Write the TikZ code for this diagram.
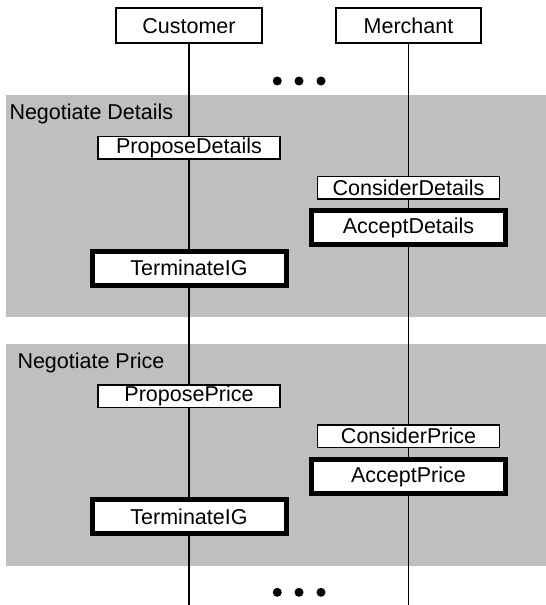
\documentclass[tikz,border=0pt]{standalone}
\usepackage{fontspec}
\setmainfont{Liberation Sans}
\pgfdeclarelayer{regions}
\pgfdeclarelayer{lanes}
\pgfsetlayers{regions,lanes,main}
\definecolor{phasegray}{RGB}{191,191,191}
\begin{document}
\begin{tikzpicture}[x=1pt,y=-1pt,
  every node/.style={font=\fontsize{21.5}{25}\selectfont},
  actor/.style={draw, line width=1.6pt, fill=white, minimum height=35pt, inner sep=0pt},
  stepbox/.style={draw, line width=1.5pt, fill=white, minimum width=182pt, minimum height=22.5pt, inner sep=0pt},
  finalbox/.style={draw, line width=5pt, fill=white, minimum width=194pt, minimum height=34pt, inner sep=0pt},
  phase/.style={fill=phasegray, draw=none, anchor=north west, minimum width=541pt, inner sep=0pt},
  phaselabel/.style={anchor=base west, inner sep=0pt},
  lifeline/.style={line width=1.3pt},
  ellipsisdot/.style={circle, fill=black, minimum size=9pt, inner sep=0pt}
]
\useasboundingbox (0,0) rectangle (546,605);

% participants
\node[actor, minimum width=146pt] (cust) at (189,25.7) {Customer};
\node[actor, minimum width=144.5pt] (merch) at (408.5,25.7) {Merchant};

% continuation marks above and below the phases
\node[ellipsisdot] (dotA1) at (277.3,81) {};
\node[ellipsisdot] (dotA2) at (299,81) {};
\node[ellipsisdot] (dotA3) at (321,81) {};
\node[ellipsisdot] (dotB1) at (277.3,592.3) {};
\node[ellipsisdot] (dotB2) at (299,592.3) {};
\node[ellipsisdot] (dotB3) at (321,592.3) {};

% phase regions
\begin{pgfonlayer}{regions}
  \node[phase, minimum height=221.7pt] (phaseDetails) at (5.5,95) {};
  \node[phase, minimum height=222.2pt] (phasePrice) at (5.5,343.5) {};
\end{pgfonlayer}
\node[phaselabel] (lblDetails) at (9.3,119) {Negotiate Details};
\node[phaselabel] (lblPrice) at (17.3,368.3) {Negotiate Price};

% negotiate details
\node[stepbox] (propDet) at (189,147.5) {ProposeDetails};
\node[stepbox] (consDet) at (408.5,187.9) {ConsiderDetails};
\node[finalbox] (accDet) at (408.5,227.8) {AcceptDetails};
\node[finalbox] (termDet) at (189,268) {TerminateIG};

% negotiate price
\node[stepbox] (propPr) at (189,396.3) {ProposePrice};
\node[stepbox] (consPr) at (408.5,436.3) {ConsiderPrice};
\node[finalbox] (accPr) at (408.5,476.5) {AcceptPrice};
\node[finalbox] (termPr) at (189,516.7) {TerminateIG};

% lifelines
\coordinate (custEnd) at (189,605);
\coordinate (merchEnd) at (408.5,605);
\begin{pgfonlayer}{lanes}
  \draw[lifeline] (cust.south) -- (custEnd);
  \draw[lifeline] (merch.south) -- (merchEnd);
\end{pgfonlayer}
\end{tikzpicture}
\end{document}
